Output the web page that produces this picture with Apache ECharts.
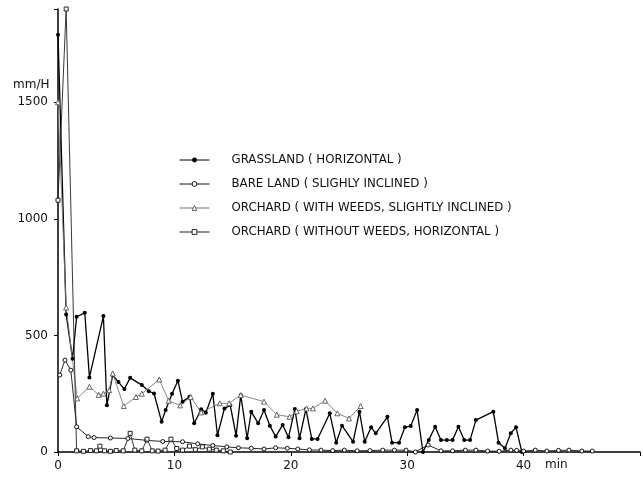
<!DOCTYPE html>
<html><head><meta charset="utf-8">
<script src="https://cdn.jsdelivr.net/npm/echarts@6/dist/echarts.min.js"></script>
<style>html,body{margin:0;padding:0;background:#fff}#c{width:643px;height:484px}</style>
</head><body><div id="c"></div>
<script>
// Infiltration rate (mm/H) vs time (min)
const seriesNames = [
  'GRASSLAND ( HORIZONTAL )',
  'BARE LAND ( SLIGHLY INCLINED )',
  'ORCHARD ( WITH WEEDS, SLIGHTLY INCLINED )',
  'ORCHARD ( WITHOUT WEEDS, HORIZONTAL )'
];
const yTicks = [0, 500, 1000, 1500];
const xTicks = [0, 10, 20, 30, 40];

const grassTime = [0,0.7,1.25,1.6,2.3,2.7,3.9,4.2,4.7,5.2,5.7,6.2,7.2,7.8,8.25,8.9,9.25,9.8,10.3,10.7,11.3,11.7,12.3,12.7,13.3,13.7,14.3,14.8,15.3,15.7,16.25,16.6,17.2,17.7,18.2,18.7,19.3,19.8,20.35,20.75,21.3,21.8,22.3,23.35,23.9,24.4,25.35,25.9,26.35,26.9,27.3,28.3,28.7,29.3,29.8,30.3,30.85,31.35,31.85,32.4,32.9,33.4,33.9,34.4,34.9,35.4,35.9,37.4,37.85,38.4,38.9,39.35,39.85];
const grassRate = [1790,590,400,580,597,320,583,200,330,300,270,318,287,261,251,130,180,250,306,216,237,123,183,168,250,72,187,200,70,244,59,173,123,180,113,66,116,63,184,59,184,56,56,166,40,113,44,173,44,106,80,151,40,40,106,111,180,0,51,108,51,51,51,108,51,51,137,173,40,16,80,106,0];

const bareTime = [0.15,0.6,1.1,1.6,2.6,3.1,4.5,6,7.6,9,10.7,12,13.3,14.5,15.5,16.6,17.7,18.7,19.7,20.6,21.6,22.6,23.6,24.6,25.7,26.8,27.9,28.9,29.9,30.7,31.8,32.9,33.9,35,35.9,36.9,37.9,38.9,39.4,40,41,42,43,43.9,45,45.9];
const bareRate = [330,394,351,108,66,62,60,58,50,45,44,35,28,22,18,16,13,18,16,13,9,8,6,8,5,6,8,8,8,0,30,5,5,8,8,4,3,8,7,4,8,4,7,8,4,4];

const weedTime = [0,0.7,1.65,2.7,3.5,3.9,4.4,4.7,5.65,6.7,7.2,8.7,9.5,10.5,11.4,12.3,13.9,14.7,15.7,17.7,18.8,19.9,20.5,21.35,21.9,22.95,24,25,26];
const weedRate = [1500,620,230,280,245,250,265,337,197,236,250,311,220,200,236,170,209,209,244,216,160,151,175,187,187,220,166,144,197];

const noWeedTime = [0,0.7,1.6,2.2,2.8,3.3,3.6,4,4.5,5,5.6,6.2,6.6,7.2,7.65,8.1,8.6,9.2,9.7,10.2,10.7,11.3,11.8,12.4,13,13.6,14.2,14.8];
const noWeedRate = [1080,1900,5,3,6,5,25,5,3,6,5,80,8,5,55,5,4,8,55,15,8,25,10,22,12,8,5,0];

function pairs(t, v) { return t.map((x, i) => [x, v[i]]); }

const font = 'DejaVu Sans';
const chart = echarts.init(document.getElementById('c'), null, {renderer: 'canvas'});
chart.setOption({
  animation: false,
  backgroundColor: '#ffffff',
  title: {
    text: 'mm/H', left: 8, top: 74,
    textStyle: {fontFamily: font, fontSize: 12, fontWeight: 'normal', color: '#111'}
  },
  grid: {left: 58, right: 1, top: 9, bottom: 32},
  legend: {
    orient: 'vertical', left: 174, top: 149, itemGap: 12,
    itemWidth: 30, itemHeight: 6,
    data: seriesNames,
    itemStyle: {borderWidth: 1},
    lineStyle: {width: 1},
    textStyle: {fontFamily: font, fontSize: 11.8, color: '#111', padding: [0, 0, 0, 17]}
  },
  graphic: [{
    type: 'text', left: 545, top: 459,
    style: {text: 'min', fontFamily: font, fontSize: 12, fill: '#111'}
  }],
  xAxis: {
    type: 'value', min: 0, max: 50, interval: 10,
    axisLine: {lineStyle: {color: '#000', width: 1.5}},
    axisTick: {show: true, length: 4, lineStyle: {color: '#000'}},
    splitLine: {show: false},
    axisLabel: {
      margin: 8, fontFamily: font, fontSize: 12, color: '#111',
      formatter: v => xTicks.includes(v) ? String(v) : ''
    }
  },
  yAxis: {
    type: 'value', min: 0, max: 1900, interval: 500,
    axisLine: {show: true, lineStyle: {color: '#000', width: 1.5}},
    axisTick: {show: true, length: 4, lineStyle: {color: '#000'}},
    splitLine: {show: false},
    axisLabel: {
      margin: 10, fontFamily: font, fontSize: 12, color: '#111',
      formatter: v => yTicks.includes(v) ? String(v) : ''
    }
  },
  series: [
    {
      name: seriesNames[0], type: 'line', data: pairs(grassTime, grassRate),
      symbol: 'circle', symbolSize: 4,
      lineStyle: {color: '#000', width: 1.3},
      itemStyle: {color: '#000', borderWidth: 0}
    },
    {
      name: seriesNames[1], type: 'line', data: pairs(bareTime, bareRate),
      symbol: 'circle', symbolSize: 4,
      lineStyle: {color: '#111', width: 0.9},
      itemStyle: {color: '#fff', borderColor: '#111', borderWidth: 1}
    },
    {
      name: seriesNames[2], type: 'line', data: pairs(weedTime, weedRate),
      symbol: 'triangle', symbolSize: 5,
      lineStyle: {color: '#777', width: 0.9},
      itemStyle: {color: '#fff', borderColor: '#666', borderWidth: 1}
    },
    {
      name: seriesNames[3], type: 'line', data: pairs(noWeedTime, noWeedRate),
      symbol: 'rect', symbolSize: 4,
      lineStyle: {color: '#222', width: 0.9},
      itemStyle: {color: '#fff', borderColor: '#222', borderWidth: 1}
    }
  ]
});
</script>
</body></html>
